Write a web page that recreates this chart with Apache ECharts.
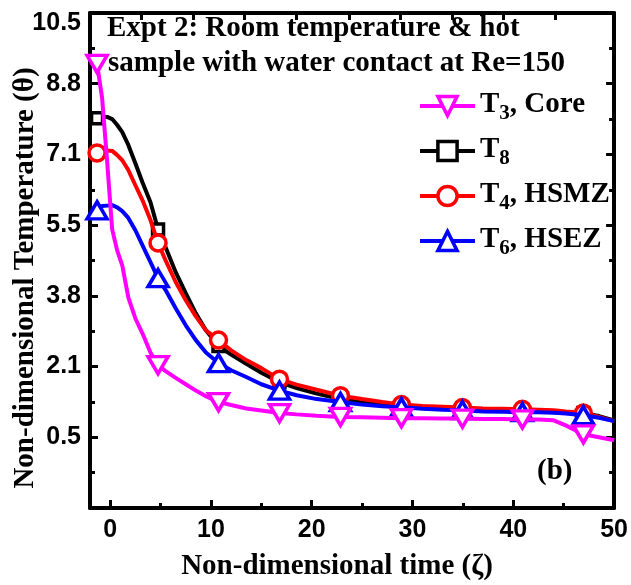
<!DOCTYPE html>
<html>
<head>
<meta charset="utf-8">
<script src="https://cdn.jsdelivr.net/npm/echarts@6/dist/echarts.min.js"></script>
<style>
  html, body { margin: 0; padding: 0; background: #fff; }
  #chart { width: 631px; height: 585px; }
</style>
</head>
<body>
<div id="chart"></div>
<script>
// Non-dimensional time samples (zeta)
const timeZeta = [-1.3, -0.8, -0.3, 0.2, 0.7, 1.2, 1.8, 2.5, 3.2, 4.0, 4.75, 5.5, 6.5, 7.5, 8.5, 9.5,
  10.75, 12, 13.5, 15, 16.8, 18.5, 20.5, 22.85, 25, 27, 28.9, 31, 33, 34.95, 37, 39, 40.9, 42.5, 44,
  45.2, 46.95, 48.5, 50];

// Times at which a marker is drawn on each curve
const markerTimes = [-1.3, 4.75, 10.75, 16.8, 22.85, 28.9, 34.95, 40.9, 46.95];

// Non-dimensional temperature (theta) per thermocouple
const thetaT3 = [9.3, 8.5, 7.0, 5.4, 4.9, 4.55, 3.8, 3.3, 2.95, 2.5, 2.2, 2.06, 1.9, 1.75, 1.6, 1.47,
  1.33, 1.26, 1.18, 1.13, 1.07, 1.04, 1.01, 0.98, 0.97, 0.96, 0.95, 0.95, 0.94, 0.94, 0.93, 0.93, 0.92,
  0.92, 0.9, 0.78, 0.57, 0.5, 0.43];
const thetaT8 = [8.02, 8.05, 8.05, 8.0, 7.86, 7.69, 7.39, 6.96, 6.51, 6.04, 5.4, 4.98, 4.39, 3.9, 3.42,
  3.02, 2.65, 2.45, 2.23, 2.02, 1.8, 1.66, 1.53, 1.4, 1.32, 1.26, 1.23, 1.2, 1.18, 1.17, 1.16, 1.15,
  1.14, 1.13, 1.11, 1.09, 1.07, 1.0, 0.9];
const thetaT4 = [7.2, 7.25, 7.26, 7.25, 7.15, 7.03, 6.8, 6.44, 6.09, 5.62, 5.08, 4.67, 4.16, 3.73, 3.35,
  3.02, 2.79, 2.55, 2.32, 2.13, 1.87, 1.74, 1.62, 1.48, 1.4, 1.33, 1.27, 1.24, 1.22, 1.2, 1.18, 1.17,
  1.16, 1.15, 1.14, 1.11, 1.07, 0.98, 0.88];
const thetaT6 = [5.85, 5.95, 5.96, 5.97, 5.92, 5.83, 5.67, 5.38, 5.03, 4.63, 4.25, 3.97, 3.54, 3.14,
  2.79, 2.5, 2.25, 2.08, 1.92, 1.75, 1.6, 1.49, 1.4, 1.33, 1.27, 1.23, 1.21, 1.17, 1.15, 1.14, 1.11,
  1.1, 1.09, 1.09, 1.08, 1.06, 1.02, 0.96, 0.88];

// Axis ticks and labels
const xTickValues = [0, 10, 20, 30, 40, 50];
const xMinorTickValues = [5, 15, 25, 35, 45];
const xTopTickValues = [3.1, 8.2, 13.3, 18.5, 23.7, 28.8, 33.9, 39.0, 44.2];
const yTickLabels = ['0.5', '2.1', '3.8', '5.5', '7.1', '8.8', '10.5'];

const serif = '"Liberation Serif", "Times New Roman", serif';
const sans = '"Liberation Sans", Arial, sans-serif';

function buildData(values) {
  return timeZeta.map((t, i) => {
    const item = { value: [t, values[i]] };
    if (markerTimes.indexOf(t) < 0) item.symbol = 'none';
    return item;
  });
}

function curve(name, values, color, symbol, size, rotate, z) {
  return {
    name: name,
    type: 'line',
    xAxisIndex: 0,
    yAxisIndex: 0,
    data: buildData(values),
    symbol: symbol,
    symbolSize: size,
    symbolRotate: rotate,
    showSymbol: true,
    showAllSymbol: true,
    z: z,
    lineStyle: { color: color, width: 4 },
    itemStyle: { color: '#fff', borderColor: color, borderWidth: 3.5 },
    emphasis: { disabled: true },
    animation: false
  };
}

const chart = echarts.init(document.getElementById('chart'), null, { renderer: 'canvas' });

const frameLine = { show: true, onZero: false, lineStyle: { color: '#000', width: 4 } };
const labelFont = { color: '#000', fontFamily: sans, fontWeight: 'bold', fontSize: 25 };

const option = {
  animation: false,
  backgroundColor: '#fff',
  grid: { left: 90, right: 16, top: 13, bottom: 77, containLabel: false },
  legend: {
    orient: 'vertical',
    left: 418,
    top: 90,
    padding: 0,
    itemWidth: 55,
    itemHeight: 24,
    itemGap: 11,
    lineStyle: { width: 4 },
    itemStyle: { borderWidth: 3.5 },
    data: ['T3, Core', 'T8', 'T4, HSMZ', 'T6, HSEZ'],
    formatter: function (name) {
      return name.replace(/^T(\d)(.*)$/, '{t|T}{s|$1}{t|$2}');
    },
    textStyle: {
      rich: {
        t: { fontFamily: serif, fontWeight: 'bold', fontSize: 29, lineHeight: 32, verticalAlign: 'top', color: '#000' },
        s: { fontFamily: serif, fontWeight: 'bold', fontSize: 21, lineHeight: 22, padding: [13, 0, 0, 0], verticalAlign: 'top', color: '#000' }
      }
    }
  },
  xAxis: [
    {
      type: 'value', position: 'bottom', min: -2, max: 50,
      splitLine: { show: false },
      axisLine: frameLine,
      axisTick: { show: true, inside: true, length: 8, customValues: xTickValues, lineStyle: { color: '#000', width: 3 } },
      axisLabel: Object.assign({ show: true, customValues: xTickValues, margin: 10 }, labelFont)
    },
    {
      type: 'value', position: 'bottom', min: -2, max: 50,
      splitLine: { show: false },
      axisLine: { show: false, onZero: false },
      axisTick: { show: true, inside: true, length: 5, customValues: xMinorTickValues, lineStyle: { color: '#000', width: 3 } },
      axisLabel: { show: false }
    },
    {
      type: 'value', position: 'top', min: -2, max: 50,
      splitLine: { show: false },
      axisLine: frameLine,
      axisTick: { show: true, inside: true, length: 7, customValues: xTopTickValues, lineStyle: { color: '#000', width: 3 } },
      axisLabel: { show: false }
    }
  ],
  yAxis: [
    {
      type: 'value', position: 'left', min: -7 / 6, max: 10.5, interval: 5 / 3,
      splitLine: { show: false },
      axisLine: frameLine,
      axisTick: { show: true, inside: true, length: 8, lineStyle: { color: '#000', width: 3 } },
      minorTick: { show: true, splitNumber: 2, length: 5, lineStyle: { color: '#000', width: 3 } },
      axisLabel: Object.assign({
        show: true, margin: 9,
        formatter: function (v, i) {
          if (i === 0) return '';
          const txt = yTickLabels[i - 1] || '';
          // the topmost label sits a little below the frame corner
          return i === yTickLabels.length ? '{top|' + txt + '}' : txt;
        },
        rich: { top: Object.assign({ padding: [20, 0, 0, 0] }, labelFont) }
      }, labelFont)
    },
    {
      type: 'value', position: 'right', min: -7 / 6, max: 10.5, interval: 5 / 3,
      splitLine: { show: false },
      axisLine: frameLine,
      axisTick: { show: true, inside: true, length: 8, lineStyle: { color: '#000', width: 3 } },
      minorTick: { show: true, splitNumber: 2, length: 5, lineStyle: { color: '#000', width: 3 } },
      axisLabel: { show: false }
    }
  ],
  series: [
    curve('T8', thetaT8, '#000000', 'rect', 11, 0, 2),
    curve('T4, HSMZ', thetaT4, '#ff0000', 'circle', 16, 0, 3),
    curve('T6, HSEZ', thetaT6, '#0000ff', 'triangle', [20, 17], 0, 4),
    curve('T3, Core', thetaT3, '#ff00ff', 'triangle', [20, 17], 180, 5)
  ],
  graphic: [
    { type: 'text', left: 107, top: 14, style: { text: 'Expt 2: Room temperature & hot', font: 'bold 29px ' + serif, fill: '#000' } },
    { type: 'text', left: 108, top: 49, style: { text: 'sample with water contact at Re=150', font: 'bold 29px ' + serif, fill: '#000' } },
    { type: 'text', left: 537, top: 457, style: { text: '(b)', font: 'bold 29px ' + serif, fill: '#000' } },
    { type: 'text', x: 337, y: 567, style: { text: 'Non-dimensional time (\u03b6)', font: 'bold 29px ' + serif, fill: '#000', align: 'center', verticalAlign: 'middle' } },
    { type: 'text', x: 26, y: 278, rotation: Math.PI / 2, style: { text: 'Non-dimensional Temperature (\u03b8)', font: 'bold 29px ' + serif, fill: '#000', align: 'center', verticalAlign: 'middle' } }
  ]
};

chart.setOption(option);
</script>
</body>
</html>
